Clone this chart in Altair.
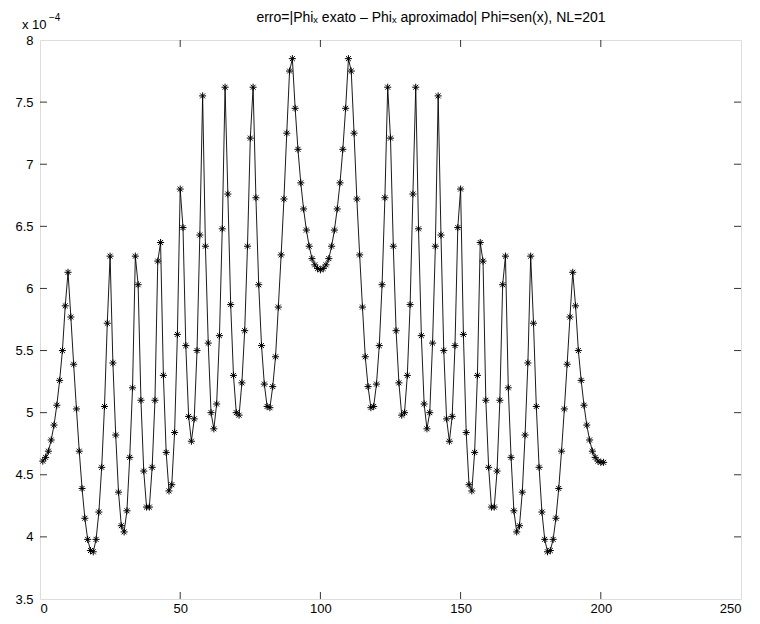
import altair as alt
import pandas as pd

# error values (units of 1e-4), node index 1..201
err_left = [
    4.61, 4.64, 4.69, 4.78, 4.90, 5.06, 5.26, 5.50, 5.86, 6.13,
    5.77, 5.39, 5.03, 4.69, 4.39, 4.15, 3.98, 3.89, 3.88, 3.98,
    4.20, 4.56, 5.05, 5.72, 6.26, 5.40, 4.82, 4.36, 4.09, 4.04,
    4.21, 4.64, 5.20, 6.26, 6.03, 5.10, 4.53, 4.24, 4.24, 4.56,
    5.10, 6.22, 6.37, 5.30, 4.68, 4.37, 4.42, 4.84, 5.63, 6.80,
    6.49, 5.54, 4.97, 4.77, 4.95, 5.50, 6.43, 7.55, 6.34, 5.56,
    5.00, 4.87, 5.07, 5.62, 6.48, 7.62, 6.76, 5.87, 5.30, 5.00,
    4.98, 5.24, 5.66, 6.34, 7.21, 7.62, 6.73, 6.03, 5.54, 5.23,
    5.05, 5.04, 5.21, 5.45, 5.85, 6.27, 6.72, 7.25, 7.75, 7.85,
    7.45, 7.12, 6.85, 6.64, 6.47, 6.34, 6.24, 6.19, 6.16, 6.15,
]
err_right = [
    6.16, 6.19, 6.24, 6.34, 6.47, 6.64, 6.85, 7.12, 7.45, 7.85,
    7.75, 7.25, 6.72, 6.27, 5.85, 5.45, 5.21, 5.04, 5.05, 5.23,
    5.54, 6.03, 6.73, 7.62, 7.21, 6.34, 5.66, 5.24, 4.98, 5.00,
    5.30, 5.87, 6.76, 7.62, 6.48, 5.62, 5.07, 4.87, 5.00, 5.56,
    6.34, 7.55, 6.43, 5.50, 4.95, 4.77, 4.97, 5.54, 6.49, 6.80,
    5.63, 4.84, 4.42, 4.37, 4.68, 5.30, 6.37, 6.22, 5.10, 4.56,
    4.24, 4.24, 4.53, 5.10, 6.03, 6.26, 5.20, 4.64, 4.21, 4.04,
    4.09, 4.36, 4.82, 5.40, 6.26, 5.72, 5.05, 4.56, 4.20, 3.98,
    3.88, 3.89, 3.98, 4.15, 4.39, 4.69, 5.03, 5.39, 5.77, 6.13,
    5.86, 5.50, 5.26, 5.06, 4.90, 4.78, 4.69, 4.64, 4.61, 4.60,
    4.60,
]
err = err_left + err_right
idx = list(range(1, len(err) + 1))

x_ticks = [0, 50, 100, 150, 200, 250]
y_ticks = [3.5, 4, 4.5, 5, 5.5, 6, 6.5, 7, 7.5, 8]

df = pd.DataFrame({"i": idx, "e": err})

FONT = "Liberation Sans"
W, H = 701, 559
xsc = alt.Scale(domain=[0, 250], nice=False, zero=False)
ysc = alt.Scale(domain=[3.5, 8], nice=False, zero=False)

xax = alt.Axis(values=x_ticks, title=None, grid=False, domain=False, ticks=False,
               labelPadding=3, labelFont=FONT, labelFontSize=13, labelColor="black")
yax = alt.Axis(values=y_ticks, title=None, grid=False, domain=False, ticks=False,
               labelPadding=7, labelFont=FONT, labelFontSize=13, labelColor="black",
               labelExpr="format(datum.value, '~g')")

base = alt.Chart(df)
line = base.mark_line(color="black", strokeWidth=0.9).encode(
    x=alt.X("i:Q", scale=xsc, axis=xax),
    y=alt.Y("e:Q", scale=ysc, axis=yax),
)
star = "M -1 0 L 1 0 M 0 -1 L 0 1 M -0.7 -0.7 L 0.7 0.7 M -0.7 0.7 L 0.7 -0.7"
pts = base.mark_point(shape=star, filled=False, color="black", size=50,
                      strokeWidth=1, opacity=1).encode(
    x=alt.X("i:Q", scale=xsc), y=alt.Y("e:Q", scale=ysc))

# inward ticks (MATLAB box style)
xt = pd.DataFrame({"t": x_ticks[1:-1]})
yt = pd.DataFrame({"t": y_ticks[1:-1]})
tlen_y = 7 / H * 4.5
tlen_x = 7 / W * 250
xb = alt.Chart(xt).mark_rule(color="black", strokeWidth=0.8).encode(
    x=alt.X("t:Q", scale=xsc), y=alt.datum(3.5), y2=alt.datum(3.5 + tlen_y))
xtp = alt.Chart(xt).mark_rule(color="black", strokeWidth=0.8).encode(
    x=alt.X("t:Q", scale=xsc), y=alt.datum(8), y2=alt.datum(8 - tlen_y))
yl = alt.Chart(yt).mark_rule(color="black", strokeWidth=0.8).encode(
    y=alt.Y("t:Q", scale=ysc), x=alt.datum(0), x2=alt.datum(tlen_x))
yr = alt.Chart(yt).mark_rule(color="black", strokeWidth=0.8).encode(
    y=alt.Y("t:Q", scale=ysc), x=alt.datum(250), x2=alt.datum(250 - tlen_x))

mult = alt.Chart(pd.DataFrame({"a": [0]})).mark_text(
    text="x 10", font=FONT, fontSize=13, align="left", baseline="alphabetic", color="black"
).encode(x=alt.value(-18), y=alt.value(-11))
mult_exp = alt.Chart(pd.DataFrame({"a": [0]})).mark_text(
    text="\u22124", font=FONT, fontSize=10, align="left", baseline="alphabetic", color="black"
).encode(x=alt.value(9), y=alt.value(-19))

title = alt.Chart(pd.DataFrame({"a": [0]})).mark_text(
    text="erro=|Phi\u2093 exato \u2013 Phi\u2093 aproximado| Phi=sen(x), NL=201",
    font=FONT, fontSize=14, align="center", baseline="alphabetic", color="black"
).encode(x=alt.value(391), y=alt.value(-18))

chart = alt.layer(line, pts, xb, xtp, yl, yr, mult, mult_exp, title).properties(
    width=W, height=H,
    autosize=alt.AutoSizeParams(type="none"),
    padding={"left": 32, "top": 32, "right": 11, "bottom": 17},
).configure_view(stroke="black", strokeWidth=1).configure(background="white")

chart.save("out.html", embed_options={"renderer": "svg", "actions": False})
